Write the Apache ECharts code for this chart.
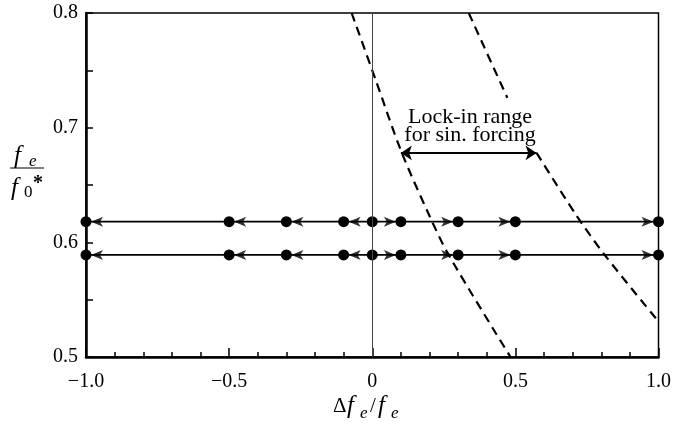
<!DOCTYPE html>
<html>
<head>
<meta charset="utf-8">
<script src="https://cdn.jsdelivr.net/npm/echarts@6/dist/echarts.min.js"></script>
<style>
  html, body { margin: 0; padding: 0; background: #fff; }
  #chart { width: 674px; height: 428px; }
</style>
</head>
<body>
<div id="chart"></div>
<script>
// 数据
const flowX = [-1.0, -0.5, -0.3, -0.1, 0, 0.1, 0.3, 0.5, 1.0];
const upperY = 0.618;
const lowerY = 0.589;
const leftArrowX = [-1.0, -0.5, -0.3, -0.1];
const rightArrowX = [0.1, 0.3, 0.5, 1.0];

// 虚线边界
const curve1X = [-0.072, 0.012, 0.0995, 0.197, 0.267, 0.483];
const curve1Y = [0.8, 0.7416, 0.6805, 0.6247, 0.589, 0.5];
const curve2aX = [0.337, 0.472];
const curve2aY = [0.8, 0.726];
const curve2bX = [0.574, 0.710, 0.812, 1.0];
const curve2bY = [0.678, 0.6247, 0.589, 0.531];

// lock-in 范围
const lockX = [0.10, 0.574];
const lockY = 0.678;

const xTickValues = [-1, -0.5, 0, 0.5, 1];
const xTickText = ['\u22121.0', '\u22120.5', '0', '0.5', '1.0'];
const yTickValues = [0.5, 0.6, 0.7, 0.8];
const yTickText = ['0.5', '0.6', '0.7', '0.8'];

const serif = '"Liberation Serif", "DejaVu Serif", serif';
const zip = (xs, ys) => xs.map((x, i) => [x, ys[i]]);
const findLabel = (vals, texts, v) => {
  const i = vals.findIndex(t => Math.abs(t - v) < 1e-6);
  return i >= 0 ? texts[i] : '';
};

const arrowRight = 'path://M0,0 L12,5 L0,10 L3,5 Z';
const arrowLeft = 'path://M12,0 L0,5 L12,10 L9,5 Z';

const flowLine = (y) => ({
  type: 'line',
  data: flowX.map(x => [x, y]),
  symbol: 'circle',
  symbolSize: 11,
  itemStyle: { color: '#000' },
  lineStyle: { color: '#000', width: 1.8 },
  z: 4,
  silent: true
});

const dashed = (xs, ys) => ({
  type: 'line',
  data: zip(xs, ys),
  smooth: 0.3,
  symbol: 'none',
  lineStyle: { color: '#000', width: 2.2, type: [9, 6] },
  z: 3,
  silent: true
});

const myChart = echarts.init(document.getElementById('chart'));

const option = {
  animation: false,
  backgroundColor: '#fff',
  grid: {
    left: 86, right: 15, top: 13, bottom: 71,
    show: true, borderColor: '#000', borderWidth: 1.5
  },
  xAxis: {
    type: 'value',
    min: -1, max: 1, interval: 0.5,
    axisLine: { onZero: false, lineStyle: { color: '#000', width: 2.5 } },
    axisTick: { inside: true, length: 9, lineStyle: { color: '#000', width: 1.5 } },
    minorTick: { show: true, splitNumber: 5, length: 5, lineStyle: { color: '#000', width: 1.5 } },
    splitLine: { show: false },
    axisLabel: {
      margin: 15,
      color: '#000',
      fontFamily: serif,
      fontSize: 20,
      formatter: v => findLabel(xTickValues, xTickText, v)
    }
  },
  yAxis: {
    type: 'value',
    min: 0.5, max: 0.8, interval: 0.1,
    axisLine: { onZero: false, lineStyle: { color: '#000', width: 2.5 } },
    axisTick: { inside: true, length: 7, lineStyle: { color: '#000', width: 1.5 } },
    minorTick: { show: true, splitNumber: 2, length: 7, lineStyle: { color: '#000', width: 1.5 } },
    splitLine: { show: false },
    axisLabel: {
      margin: 8,
      color: '#000',
      fontFamily: serif,
      fontSize: 20,
      formatter: v => findLabel(yTickValues, yTickText, v)
    }
  },
  series: [
    {
      type: 'line',
      data: [],
      markLine: {
        silent: true,
        symbol: 'none',
        label: { show: false },
        lineStyle: { color: '#444', width: 1, type: 'solid' },
        data: [{ xAxis: 0 }]
      }
    },
    dashed(curve1X, curve1Y),
    dashed(curve2aX, curve2aY),
    dashed(curve2bX, curve2bY),
    flowLine(upperY),
    flowLine(lowerY),
    {
      type: 'scatter',
      data: leftArrowX.flatMap(x => [[x, upperY], [x, lowerY]]),
      symbol: arrowLeft,
      symbolSize: [12, 10],
      symbolOffset: [11, 0],
      itemStyle: { color: '#000' },
      z: 5,
      silent: true
    },
    {
      type: 'scatter',
      data: rightArrowX.flatMap(x => [[x, upperY], [x, lowerY]]),
      symbol: arrowRight,
      symbolSize: [12, 10],
      symbolOffset: [-11, 0],
      itemStyle: { color: '#000' },
      z: 5,
      silent: true
    },
    {
      type: 'lines',
      coordinateSystem: 'cartesian2d',
      symbol: ['arrow', 'arrow'],
      symbolSize: 11,
      lineStyle: { color: '#000', width: 2.2, opacity: 1 },
      data: [{ coords: [[lockX[0], lockY], [lockX[1], lockY]] }],
      z: 5,
      silent: true
    }
  ],
  graphic: [
    // Lock-in 注释
    {
      type: 'text', x: 470, y: 126,
      style: {
        text: 'Lock-in range\nfor sin. forcing',
        font: '22px ' + serif, fill: '#000',
        align: 'center', verticalAlign: 'middle', lineHeight: 18
      }
    },
    // y 轴标题 fe / f0*
    { type: 'text', x: 14, y: 156, style: { text: 'f', font: 'italic 25px ' + serif, fill: '#000', verticalAlign: 'middle' } },
    { type: 'text', x: 29, y: 162, style: { text: 'e', font: 'italic 17px ' + serif, fill: '#000', verticalAlign: 'middle' } },
    { type: 'line', shape: { x1: 10, y1: 168, x2: 44, y2: 168 }, style: { stroke: '#000', lineWidth: 1.2 } },
    { type: 'text', x: 11, y: 188, style: { text: 'f', font: 'italic 25px ' + serif, fill: '#000', verticalAlign: 'middle' } },
    { type: 'text', x: 24, y: 193, style: { text: '0', font: '17px ' + serif, fill: '#000', verticalAlign: 'middle' } },
    { type: 'text', x: 33, y: 184, style: { text: '*', font: 'bold 20px ' + serif, fill: '#000', verticalAlign: 'middle' } },
    // x 轴标题 Δfe/fe
    { type: 'text', x: 333, y: 406, style: { text: '\u0394', font: '21px ' + serif, fill: '#000', verticalAlign: 'middle' } },
    { type: 'text', x: 347, y: 406, style: { text: 'f', font: 'italic 25px ' + serif, fill: '#000', verticalAlign: 'middle' } },
    { type: 'text', x: 360, y: 414, style: { text: 'e', font: 'italic 17px ' + serif, fill: '#000', verticalAlign: 'middle' } },
    { type: 'text', x: 370, y: 406, style: { text: '/', font: '21px ' + serif, fill: '#000', verticalAlign: 'middle' } },
    { type: 'text', x: 378, y: 406, style: { text: 'f', font: 'italic 25px ' + serif, fill: '#000', verticalAlign: 'middle' } },
    { type: 'text', x: 391, y: 414, style: { text: 'e', font: 'italic 17px ' + serif, fill: '#000', verticalAlign: 'middle' } }
  ]
};

myChart.setOption(option);
</script>
</body>
</html>
